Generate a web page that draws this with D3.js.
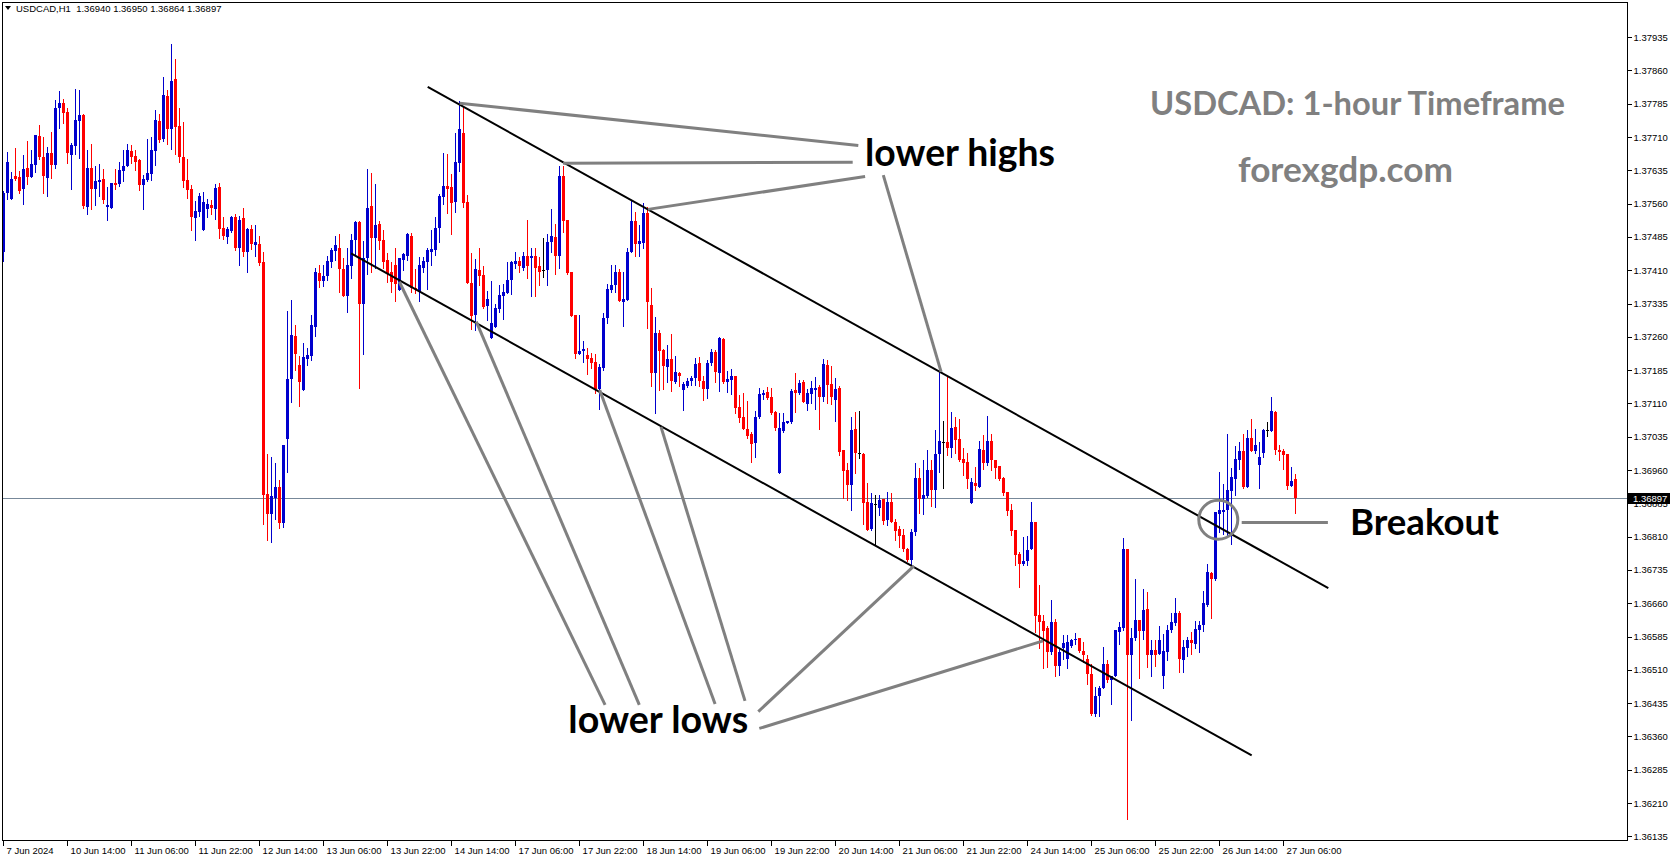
<!DOCTYPE html>
<html><head><meta charset="utf-8">
<script src="https://cdn.jsdelivr.net/npm/d3@7"></script>
<style>
html,body{margin:0;padding:0;background:#fff;overflow:hidden}
svg{display:block}
</style></head><body>
<svg id="chart" width="1673" height="861"></svg>
<script>
// ---------------- DATA (USDCAD H1, first bar 7 Jun 2024 22:00) ----------------
const symbol = "USDCAD,H1";
const opens = [
1.37450,1.37585,1.37571,1.37622,1.37620,1.37592,1.37640,1.37620,1.37648,1.37712,
1.37665,1.37618,1.37674,1.37647,1.37775,1.37787,1.37766,1.37670,1.37690,1.37746,
1.37760,1.37553,1.37640,1.37593,1.37609,1.37616,1.37553,1.37550,1.37607,1.37604,
1.37634,1.37645,1.37679,1.37667,1.37658,1.37602,1.37613,1.37627,1.37679,1.37746,
1.37706,1.37802,1.37728,1.37841,1.37735,1.37665,1.37613,1.37593,1.37528,1.37541,
1.37501,1.37548,1.37557,1.37548,1.37598,1.37505,1.37485,1.37499,1.37529,1.37461,
1.37527,1.37451,1.37503,1.37467,1.37470,1.37428,1.36906,1.36861,1.36897,1.36921,
1.36841,1.37030,1.37164,1.37261,1.37196,1.37140,1.37209,1.37217,1.37282,1.37403,
1.37385,1.37396,1.37428,1.37453,1.37461,1.37412,1.37351,1.37419,1.37477,1.37518,
1.37333,1.37437,1.37554,1.37482,1.37513,1.37477,1.37432,1.37407,1.37421,1.37365,
1.37434,1.37443,1.37488,1.37371,1.37361,1.37416,1.37428,1.37452,1.37455,1.37505,
1.37574,1.37599,1.37597,1.37563,1.37651,1.37720,1.37563,1.37381,1.37309,1.37410,
1.37399,1.37329,1.37257,1.37282,1.37322,1.37351,1.37358,1.37387,1.37423,1.37430,
1.37416,1.37443,1.37437,1.37441,1.37419,1.37410,1.37410,1.37473,1.37484,1.37443,
1.37623,1.37524,1.37407,1.37308,1.37221,1.37227,1.37218,1.37212,1.37203,1.37142,
1.37189,1.37302,1.37365,1.37376,1.37405,1.37338,1.37342,1.37452,1.37520,1.37468,
1.37471,1.37538,1.37331,1.37178,1.37268,1.37230,1.37191,1.37209,1.37158,1.37179,
1.37140,1.37149,1.37161,1.37167,1.37201,1.37161,1.37143,1.37201,1.37226,1.37179,
1.37255,1.37158,1.37163,1.37172,1.37102,1.37080,1.37053,1.37041,1.37021,1.37080,
1.37129,1.37136,1.37125,1.37091,1.36954,1.37048,1.37066,1.37068,1.37140,1.37134,
1.37158,1.37109,1.37131,1.37140,1.37147,1.37125,1.37197,1.37154,1.37118,1.37145,
1.37005,1.36960,1.36927,1.37053,1.36999,1.36996,1.36888,1.36828,1.36884,1.36875,
1.36895,1.36848,1.36889,1.36844,1.36826,1.36814,1.36783,1.36758,1.36821,1.36943,
1.36895,1.36902,1.36961,1.36916,1.36997,1.37024,1.37024,1.37010,1.37057,1.37030,
1.36985,1.36978,1.36886,1.36931,1.36922,1.37005,1.36976,1.37026,1.36983,1.36969,
1.36942,1.36911,1.36870,1.36825,1.36771,1.36749,1.36756,1.36783,1.36843,1.36634,
1.36621,1.36605,1.36551,1.36618,1.36519,1.36558,1.36535,1.36564,1.36576,1.36582,
1.36553,1.36535,1.36501,1.36411,1.36452,1.36470,1.36522,1.36486,1.36495,1.36596,
1.36605,1.36783,1.36544,1.36582,1.36623,1.36598,1.36648,1.36544,1.36555,1.36546,
1.36497,1.36551,1.36600,1.36616,1.36639,1.36533,1.36560,1.36578,1.36569,1.36600,
1.36612,1.36657,1.36729,1.36715,1.36861,1.36866,1.36870,1.36913,1.36940,1.36983,
1.37003,1.36922,1.37032,1.37003,1.36972,1.36999,1.37050,1.37048,1.37091,1.37005,
1.37003,1.36996,1.36924,1.36940];
const highs = [
1.37589,1.37676,1.37631,1.37686,1.37634,1.37670,1.37701,1.37681,1.37715,1.37737,
1.37710,1.37688,1.37721,1.37793,1.37814,1.37796,1.37775,1.37697,1.37818,1.37816,
1.37762,1.37681,1.37694,1.37645,1.37649,1.37638,1.37598,1.37607,1.37638,1.37654,
1.37681,1.37694,1.37692,1.37681,1.37661,1.37625,1.37706,1.37710,1.37771,1.37762,
1.37845,1.37816,1.37919,1.37886,1.37775,1.37744,1.37661,1.37602,1.37566,1.37584,
1.37586,1.37571,1.37568,1.37604,1.37607,1.37530,1.37508,1.37531,1.37536,1.37533,
1.37549,1.37504,1.37512,1.37512,1.37486,1.37452,1.36996,1.36989,1.36976,1.36937,
1.37016,1.37317,1.37344,1.37286,1.37216,1.37245,1.37234,1.37308,1.37416,1.37421,
1.37421,1.37443,1.37461,1.37488,1.37491,1.37437,1.37459,1.37491,1.37521,1.37520,
1.37476,1.37637,1.37630,1.37605,1.37520,1.37500,1.37448,1.37428,1.37461,1.37437,
1.37448,1.37493,1.37493,1.37412,1.37439,1.37439,1.37461,1.37500,1.37529,1.37581,
1.37673,1.37671,1.37626,1.37720,1.37792,1.37777,1.37579,1.37448,1.37435,1.37461,
1.37419,1.37363,1.37385,1.37333,1.37376,1.37378,1.37428,1.37430,1.37452,1.37439,
1.37452,1.37524,1.37459,1.37459,1.37439,1.37482,1.37491,1.37547,1.37515,1.37644,
1.37644,1.37524,1.37407,1.37308,1.37308,1.37250,1.37234,1.37223,1.37221,1.37198,
1.37313,1.37378,1.37421,1.37421,1.37412,1.37405,1.37461,1.37567,1.37540,1.37511,
1.37561,1.37552,1.37369,1.37304,1.37275,1.37232,1.37241,1.37266,1.37217,1.37181,
1.37158,1.37167,1.37172,1.37212,1.37215,1.37172,1.37208,1.37233,1.37230,1.37260,
1.37257,1.37183,1.37188,1.37172,1.37129,1.37134,1.37116,1.37046,1.37093,1.37145,
1.37140,1.37147,1.37145,1.37093,1.37089,1.37089,1.37071,1.37143,1.37179,1.37163,
1.37163,1.37143,1.37161,1.37170,1.37152,1.37210,1.37208,1.37194,1.37167,1.37149,
1.37005,1.36976,1.37080,1.37091,1.37093,1.36999,1.36931,1.36909,1.36904,1.36904,
1.36895,1.36911,1.36909,1.36850,1.36835,1.36826,1.36785,1.36826,1.36976,1.36965,
1.36983,1.37006,1.36983,1.37051,1.37186,1.37071,1.37170,1.37091,1.37080,1.37075,
1.37010,1.36999,1.36942,1.36967,1.37026,1.37039,1.37082,1.37041,1.36983,1.36969,
1.36945,1.36911,1.36884,1.36825,1.36776,1.36810,1.36812,1.36888,1.36843,1.36702,
1.36634,1.36609,1.36668,1.36625,1.36560,1.36589,1.36589,1.36580,1.36594,1.36582,
1.36573,1.36544,1.36522,1.36472,1.36474,1.36562,1.36531,1.36497,1.36600,1.36618,
1.36807,1.36783,1.36605,1.36715,1.36623,1.36693,1.36686,1.36578,1.36576,1.36609,
1.36591,1.36612,1.36639,1.36672,1.36643,1.36576,1.36585,1.36596,1.36621,1.36621,
1.36688,1.36749,1.36731,1.36866,1.36956,1.36929,1.37041,1.36965,1.37014,1.37023,
1.37041,1.37050,1.37075,1.37053,1.37023,1.37053,1.37068,1.37125,1.37093,1.37017,
1.37008,1.36996,1.36967,1.36950];
const lows = [
1.37430,1.37571,1.37571,1.37614,1.37584,1.37558,1.37605,1.37620,1.37631,1.37661,
1.37584,1.37576,1.37618,1.37640,1.37730,1.37742,1.37652,1.37593,1.37672,1.37663,
1.37550,1.37537,1.37548,1.37557,1.37577,1.37562,1.37523,1.37550,1.37593,1.37600,
1.37611,1.37645,1.37652,1.37636,1.37591,1.37548,1.37611,1.37613,1.37647,1.37699,
1.37701,1.37694,1.37683,1.37672,1.37654,1.37598,1.37573,1.37501,1.37478,1.37532,
1.37501,1.37530,1.37537,1.37526,1.37483,1.37481,1.37472,1.37496,1.37455,1.37421,
1.37443,1.37407,1.37458,1.37443,1.37421,1.36839,1.36803,1.36798,1.36850,1.36830,
1.36832,1.36956,1.37113,1.37185,1.37104,1.37140,1.37196,1.37207,1.37262,1.37373,
1.37374,1.37387,1.37417,1.37432,1.37362,1.37351,1.37316,1.37392,1.37446,1.37144,
1.37221,1.37401,1.37407,1.37416,1.37458,1.37416,1.37383,1.37361,1.37340,1.37365,
1.37410,1.37432,1.37362,1.37358,1.37340,1.37407,1.37367,1.37421,1.37445,1.37473,
1.37558,1.37538,1.37491,1.37540,1.37633,1.37552,1.37381,1.37277,1.37275,1.37376,
1.37324,1.37297,1.37257,1.37282,1.37315,1.37300,1.37358,1.37356,1.37416,1.37405,
1.37410,1.37392,1.37351,1.37353,1.37376,1.37394,1.37376,1.37450,1.37401,1.37416,
1.37495,1.37401,1.37306,1.37212,1.37221,1.37203,1.37176,1.37189,1.37133,1.37097,
1.37185,1.37290,1.37360,1.37360,1.37340,1.37284,1.37342,1.37452,1.37441,1.37443,
1.37461,1.37279,1.37149,1.37088,1.37140,1.37142,1.37158,1.37137,1.37156,1.37149,
1.37095,1.37147,1.37152,1.37152,1.37149,1.37118,1.37122,1.37197,1.37158,1.37138,
1.37156,1.37136,1.37131,1.37089,1.37068,1.37053,1.37032,1.36978,1.36990,1.37077,
1.37120,1.37120,1.37086,1.37050,1.36954,1.37046,1.37066,1.37066,1.37091,1.37131,
1.37113,1.37095,1.37111,1.37098,1.37053,1.37116,1.37111,1.37109,1.37071,1.36994,
1.36897,1.36893,1.36870,1.36954,1.36987,1.36839,1.36825,1.36825,1.36792,1.36859,
1.36839,1.36837,1.36844,1.36803,1.36787,1.36778,1.36756,1.36749,1.36814,1.36864,
1.36862,1.36900,1.36880,1.36877,1.36956,1.36920,1.36994,1.36990,1.36999,1.36981,
1.36949,1.36920,1.36886,1.36915,1.36922,1.36963,1.36972,1.36960,1.36942,1.36938,
1.36904,1.36859,1.36814,1.36747,1.36697,1.36747,1.36747,1.36783,1.36596,1.36558,
1.36513,1.36517,1.36546,1.36497,1.36499,1.36535,1.36515,1.36562,1.36569,1.36551,
1.36528,1.36479,1.36409,1.36407,1.36407,1.36470,1.36483,1.36432,1.36495,1.36567,
1.36600,1.36175,1.36396,1.36578,1.36492,1.36580,1.36517,1.36495,1.36519,1.36546,
1.36470,1.36531,1.36596,1.36612,1.36506,1.36504,1.36540,1.36546,1.36560,1.36551,
1.36598,1.36654,1.36627,1.36713,1.36821,1.36816,1.36812,1.36794,1.36904,1.36963,
1.36920,1.36922,1.37003,1.36999,1.36920,1.36990,1.37037,1.37048,1.36996,1.36983,
1.36963,1.36918,1.36924,1.36864];
const closes = [
1.37585,1.37654,1.37616,1.37616,1.37589,1.37638,1.37620,1.37649,1.37715,1.37665,
1.37622,1.37674,1.37647,1.37775,1.37787,1.37764,1.37674,1.37692,1.37748,1.37760,
1.37555,1.37640,1.37593,1.37611,1.37613,1.37568,1.37557,1.37607,1.37602,1.37636,
1.37645,1.37681,1.37665,1.37654,1.37602,1.37616,1.37629,1.37681,1.37748,1.37703,
1.37805,1.37728,1.37836,1.37733,1.37665,1.37611,1.37591,1.37530,1.37544,1.37577,
1.37564,1.37559,1.37550,1.37595,1.37503,1.37487,1.37503,1.37529,1.37461,1.37524,
1.37451,1.37502,1.37469,1.37473,1.37426,1.36904,1.36861,1.36901,1.36921,1.36841,
1.37016,1.37164,1.37263,1.37221,1.37158,1.37214,1.37218,1.37286,1.37405,1.37385,
1.37398,1.37430,1.37455,1.37466,1.37412,1.37351,1.37421,1.37477,1.37518,1.37333,
1.37437,1.37551,1.37482,1.37511,1.37476,1.37428,1.37402,1.37383,1.37379,1.37437,
1.37446,1.37491,1.37371,1.37367,1.37421,1.37430,1.37455,1.37457,1.37506,1.37576,
1.37599,1.37592,1.37561,1.37653,1.37727,1.37561,1.37381,1.37306,1.37412,1.37396,
1.37327,1.37345,1.37291,1.37324,1.37354,1.37360,1.37387,1.37428,1.37430,1.37419,
1.37443,1.37419,1.37441,1.37416,1.37407,1.37410,1.37473,1.37486,1.37443,1.37623,
1.37520,1.37403,1.37306,1.37221,1.37227,1.37232,1.37209,1.37200,1.37142,1.37191,
1.37302,1.37367,1.37376,1.37405,1.37340,1.37345,1.37452,1.37520,1.37468,1.37475,
1.37538,1.37338,1.37178,1.37268,1.37227,1.37194,1.37209,1.37160,1.37181,1.37172,
1.37154,1.37161,1.37167,1.37199,1.37161,1.37143,1.37201,1.37226,1.37181,1.37257,
1.37158,1.37165,1.37172,1.37100,1.37077,1.37053,1.37037,1.37019,1.37080,1.37131,
1.37134,1.37122,1.37089,1.37055,1.37055,1.37068,1.37071,1.37138,1.37134,1.37156,
1.37113,1.37134,1.37145,1.37145,1.37125,1.37199,1.37152,1.37125,1.37143,1.37001,
1.36958,1.36927,1.37050,1.36999,1.36999,1.36886,1.36825,1.36886,1.36884,1.36893,
1.36846,1.36889,1.36844,1.36823,1.36812,1.36781,1.36758,1.36821,1.36943,1.36895,
1.36904,1.36961,1.36916,1.36997,1.37026,1.37024,1.37010,1.37055,1.37028,1.36983,
1.36976,1.36940,1.36933,1.36924,1.37008,1.36976,1.37026,1.36983,1.36965,1.36940,
1.36909,1.36868,1.36823,1.36769,1.36749,1.36756,1.36780,1.36843,1.36632,1.36618,
1.36598,1.36551,1.36618,1.36519,1.36549,1.36571,1.36573,1.36576,1.36580,1.36553,
1.36544,1.36501,1.36411,1.36452,1.36470,1.36522,1.36486,1.36497,1.36600,1.36607,
1.36783,1.36544,1.36582,1.36623,1.36598,1.36645,1.36544,1.36555,1.36544,1.36576,
1.36553,1.36600,1.36618,1.36639,1.36535,1.36562,1.36576,1.36571,1.36603,1.36612,
1.36661,1.36731,1.36715,1.36866,1.36870,1.36870,1.36915,1.36945,1.36985,1.37003,
1.36922,1.37032,1.37003,1.37017,1.36990,1.37050,1.37050,1.37093,1.37005,1.37001,
1.36994,1.36924,1.36936,1.36897];

const timeTickBars = [0,16,32,48,64,80,96,112,128,144,160,176,192,208,224,240,256,272,288,304,320];
const timeTickLabels = ["7 Jun 2024","10 Jun 14:00","11 Jun 06:00","11 Jun 22:00","12 Jun 14:00","13 Jun 06:00",
  "13 Jun 22:00","14 Jun 14:00","17 Jun 06:00","17 Jun 22:00","18 Jun 14:00","19 Jun 06:00","19 Jun 22:00",
  "20 Jun 14:00","21 Jun 06:00","21 Jun 22:00","24 Jun 14:00","25 Jun 06:00","25 Jun 22:00","26 Jun 14:00","27 Jun 06:00"];
const priceTicks = [1.36135,1.36210,1.36285,1.36360,1.36435,1.36510,1.36585,1.36660,1.36735,1.36810,1.36885,
  1.36960,1.37035,1.37110,1.37185,1.37260,1.37335,1.37410,1.37485,1.37560,1.37635,1.37710,1.37785,1.37860,1.37935];

// annotation anchors in [bar index, price]
const channelUpper = [[106.15,1.37823],[331.3,1.36694]];
const channelLower = [[86.98,1.37448],[312.15,1.36317]];
const lowerHighPointers = [
  [[114.15,1.37786],[213.8,1.37691]],
  [[140.0,1.37651],[212.4,1.37653]],
  [[161.2,1.37547],[215.5,1.37621]],
  [[234.5,1.37181],[220.05,1.37624]]];
const lowerLowPointers = [
  [[99.05,1.37384],[150.5,1.36431]],
  [[118.3,1.37294],[159.05,1.36431]],
  [[149.15,1.37140],[178.0,1.36433]],
  [[164.475,1.37057],[185.475,1.36440]],
  [[227.725,1.36744],[188.8,1.36416]],
  [[260.0,1.36575],[189.05,1.36378]]];
const breakoutPointer = [[309.65,1.36842],[331.2,1.36842]];
const breakoutCircle = [303.8,1.36848];
const labelTexts = ["lower highs","lower lows","Breakout"];
const labelAnchors = [[215.5,1.37645],[141.3,1.36368],[336.7,1.36814]];
const titleText = "USDCAD: 1-hour Timeframe";
const siteText = "forexgdp.com";

// ---------------- LAYOUT ----------------
const W = 1673, H = 861;
const plot = {left:2.5, right:1627.5, top:2.5, bottom:840.5};
const labelWidths = [190,180,149];
const svg = d3.select('#chart');
const x = d3.scaleLinear().domain([0,400]).range([3.1,1603.1]);
const y = d3.scaleLinear().domain([1.36135,1.37935]).range([836.3,37.1]);
const n = closes.length;
const bars = d3.range(n).map(i=>({i,o:opens[i],h:highs[i],l:lows[i],c:closes[i]}));
const BULL = '#0000cd', BEAR = '#ff0000', DOJI = '#000000';
const col = d => d.c>d.o ? BULL : (d.c<d.o ? BEAR : DOJI);
const AXF = 'Liberation Sans, Arial, sans-serif';
const fmt = d3.format('.5f');

svg.append('rect').attr('width',W).attr('height',H).attr('fill','#fff');
svg.append('defs').append('clipPath').attr('id','clip').append('rect')
  .attr('x',plot.left).attr('y',plot.top).attr('width',plot.right-plot.left).attr('height',plot.bottom-plot.top);

const g = svg.append('g').attr('clip-path','url(#clip)');
// bid line
const lastPrice = closes[n-1];
const ly = Math.round(y(lastPrice))+0.5;
g.append('line').attr('x1',plot.left).attr('x2',plot.right).attr('y1',ly).attr('y2',ly)
  .attr('stroke','#778899').attr('stroke-width',1).attr('shape-rendering','crispEdges');

const cg = g.append('g').attr('shape-rendering','crispEdges');
cg.append('g').selectAll('rect').data(bars).join('rect')
  .attr('x',d=>Math.floor(x(d.i))).attr('width',1)
  .attr('y',d=>Math.round(y(d.h)))
  .attr('height',d=>Math.max(1,Math.round(y(d.l))-Math.round(y(d.h))+1))
  .attr('fill',col);
cg.append('g').selectAll('rect').data(bars).join('rect')
  .attr('x',d=>Math.floor(x(d.i))-1).attr('width',3)
  .attr('y',d=>Math.round(y(Math.max(d.o,d.c))))
  .attr('height',d=>Math.max(1,Math.round(y(Math.min(d.o,d.c)))-Math.round(y(Math.max(d.o,d.c)))))
  .attr('fill',col);

// annotations
const seg = (sel, pts, color, w) => sel.append('line')
  .attr('x1',x(pts[0][0])).attr('y1',y(pts[0][1])).attr('x2',x(pts[1][0])).attr('y2',y(pts[1][1]))
  .attr('stroke',color).attr('stroke-width',w);
const ag = g.append('g');
seg(ag, channelUpper, '#000', 2);
seg(ag, channelLower, '#000', 2);
lowerHighPointers.forEach(p=>seg(ag,p,'#808080',3));
lowerLowPointers.forEach(p=>seg(ag,p,'#808080',3));
seg(ag, breakoutPointer, '#808080', 3);
ag.append('circle').attr('cx',x(breakoutCircle[0])).attr('cy',y(breakoutCircle[1])).attr('r',19.5)
  .attr('fill','none').attr('stroke','#808080').attr('stroke-width',3);

function fitWidth(t, target){
  const w = t.node().getComputedTextLength();
  if (w>0) t.attr('font-size', parseFloat(t.attr('font-size'))*target/w);
}
labelTexts.forEach((s,k)=>{
  const t = ag.append('text').attr('x',x(labelAnchors[k][0])).attr('y',y(labelAnchors[k][1]))
    .attr('font-family','Lato, "Open Sans", sans-serif').attr('font-weight',700).attr('font-size',36)
    .attr('fill','#000').text(s);
  fitWidth(t, labelWidths[k]);
});
const tt = svg.append('text').attr('x',1150).attr('y',115).attr('font-family','Lato, "Open Sans", sans-serif')
  .attr('font-weight',700).attr('font-size',30).attr('fill','#808080').text(titleText);
fitWidth(tt, 415);
const st = svg.append('text').attr('x',1238).attr('y',182).attr('font-family','Lato, "Open Sans", sans-serif')
  .attr('font-weight',700).attr('font-size',30).attr('fill','#808080').text(siteText);
fitWidth(st, 215);

// price axis
const ya = svg.append('g').attr('transform',`translate(${plot.right},0)`)
  .call(d3.axisRight(y).tickValues(priceTicks).tickFormat(fmt).tickSize(4).tickPadding(2));
ya.select('.domain').remove();
ya.attr('font-family',AXF).attr('font-size',9.5);
ya.selectAll('line').attr('stroke','#000').attr('shape-rendering','crispEdges');
ya.selectAll('text').attr('fill','#000');

// current price box
const by = Math.round(y(lastPrice));
svg.append('rect').attr('x',1628).attr('y',by-5).attr('width',42).attr('height',11).attr('fill','#000');
svg.append('text').attr('x',1633).attr('y',by+4).attr('font-family',AXF).attr('font-size',9.5)
  .attr('fill','#fff').text(fmt(lastPrice));

// time axis
const xa = svg.append('g').attr('transform',`translate(0,${plot.bottom})`)
  .call(d3.axisBottom(x).tickValues(timeTickBars).tickFormat((d,i)=>timeTickLabels[i]).tickSize(5).tickPadding(2));
xa.select('.domain').remove();
xa.attr('font-family',AXF).attr('font-size',9.5);
xa.selectAll('line').attr('stroke','#000').attr('shape-rendering','crispEdges');
xa.selectAll('text').attr('fill','#000').attr('text-anchor','start').attr('x',3);

// frame
svg.append('rect').attr('x',plot.left).attr('y',plot.top).attr('width',plot.right-plot.left)
  .attr('height',plot.bottom-plot.top).attr('fill','none').attr('stroke','#000').attr('stroke-width',1)
  .attr('shape-rendering','crispEdges');

// header
svg.append('path').attr('d','M5,6 L11,6 L8,10 Z').attr('fill','#000');
svg.append('text').attr('x',16).attr('y',12).attr('font-family',AXF).attr('font-size',9.5)
  .attr('fill','#000').style('white-space','pre')
  .text(`${symbol}  ${fmt(opens[n-1])} ${fmt(highs[n-1])} ${fmt(lows[n-1])} ${fmt(closes[n-1])}`);
</script>
</body></html>
